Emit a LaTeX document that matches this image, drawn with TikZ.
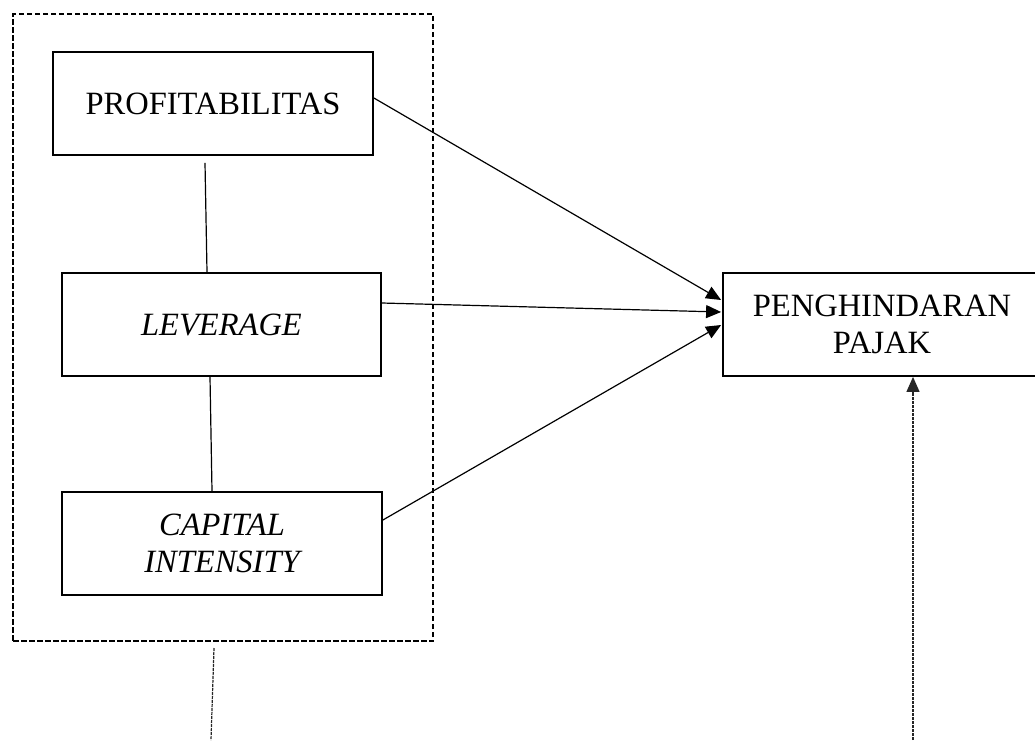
\documentclass[tikz,border=0pt]{standalone}
\usepackage{fontspec}
\setmainfont{Liberation Serif}
\usetikzlibrary{arrows.meta,calc}
\begin{document}
\begin{tikzpicture}[x=1pt,y=-1pt,
  varbox/.style={draw=black,line width=1.8pt,minimum width=320pt,minimum height=103pt,inner sep=0pt,align=center,font=\fontsize{32.5}{36.5}\selectfont},
  grpbox/.style={draw=black,line width=1.4pt,dash pattern=on 5.5pt off 2.5pt,inner sep=0pt},
  link/.style={draw=black,line width=1.2pt},
  arr/.style={draw=black,line width=1.2pt,-{Triangle[length=15pt,width=13pt]}},
  dotline/.style={draw=black!85,line width=1.2pt,dash pattern=on 3pt off 1pt}
]
\clip (0,0) rectangle (1035,740);
\fill[white] (0,0) rectangle (1035,740);
\node[grpbox,minimum width=420pt,minimum height=627pt] (grp) at (223,327.5) {};
\node[varbox] (prof) at (213,103.5) {PROFITABILITAS};
\node[varbox,minimum width=319pt] (lev) at (221.5,324.5) {\itshape LEVERAGE};
\node[varbox] (cap) at (222,543.5) {\itshape CAPITAL\\\itshape INTENSITY};
\node[varbox,minimum width=318pt] (pen) at (882,324.5) {PENGHINDARAN\\PAJAK};
\draw[link] ($(prof.south)+(-8,7)$) -- ($(lev.north)+(-14.5,0)$);
\draw[link] ($(lev.south)+(-11.5,0)$) -- ($(cap.north)+(-10,0)$);
\draw[arr] ($(prof.east)+(0,-5.5)$) -- ($(pen.west)+(-1,-24.5)$);
\draw[arr] ($(lev.east)+(0,-21.5)$) -- ($(pen.west)+(-1,-12.5)$);
\draw[arr] ($(cap.east)+(0,-23.5)$) -- ($(pen.west)+(-1,0.5)$);
\coordinate (gtop) at (214,648);
\coordinate (gbot) at (211,740);
\draw[dotline] (gtop) -- (gbot);
\coordinate (pbot) at (913,740);
\draw[dotline,-{Triangle[length=15pt,width=13pt]}] (pbot) -- (pbot |- pen.south);
\end{tikzpicture}
\end{document}
